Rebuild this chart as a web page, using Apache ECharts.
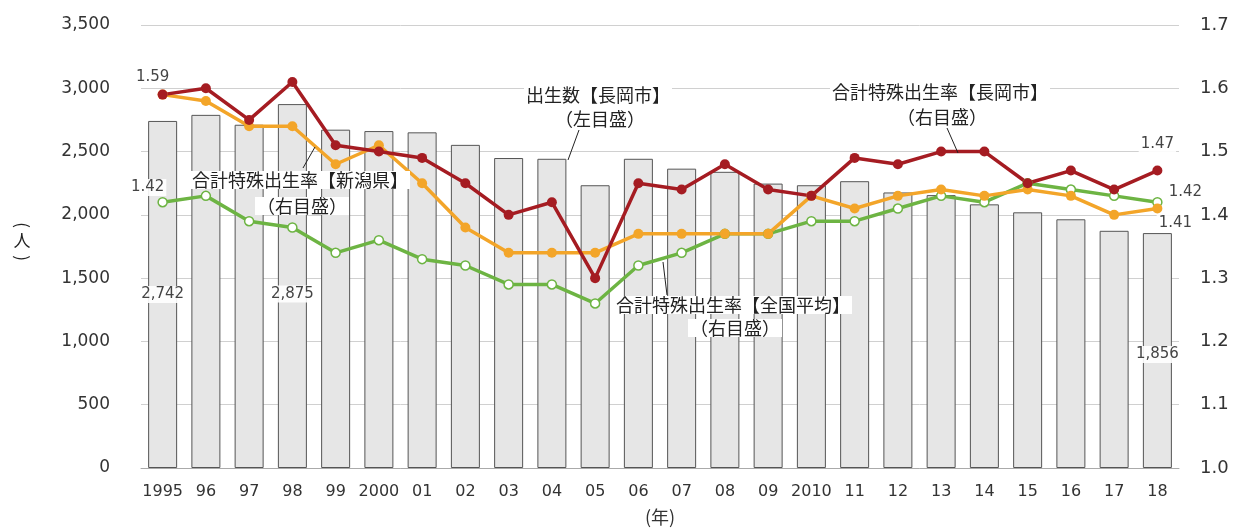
<!DOCTYPE html>
<html>
<head>
<meta charset="utf-8">
<script src="https://cdn.jsdelivr.net/npm/echarts@6/dist/echarts.min.js"></script>
<style>
  html, body { margin: 0; padding: 0; background: #fff; }
  #chart { width: 1236px; height: 531px; }
</style>
</head>
<body>
<div id="chart"></div>
<script>
// 年（横軸）
var years = ['1995', '96', '97', '98', '99', '2000', '01', '02', '03', '04', '05', '06',
    '07', '08', '09', '2010', '11', '12', '13', '14', '15', '16', '17', '18'];
// 出生数【長岡市】（左目盛）
var births = [2742, 2790, 2712, 2875, 2673, 2662, 2652, 2553, 2449, 2443, 2234, 2443,
    2365, 2340, 2247, 2234, 2266, 2177, 2156, 2083, 2020, 1965, 1874, 1856];
// 合計特殊出生率（右目盛）
var tfrNagaoka = [1.59, 1.60, 1.55, 1.61, 1.51, 1.50, 1.49, 1.45, 1.40, 1.42, 1.30, 1.45,
    1.44, 1.48, 1.44, 1.43, 1.49, 1.48, 1.50, 1.50, 1.45, 1.47, 1.44, 1.47];
var tfrNiigata = [1.59, 1.58, 1.54, 1.54, 1.48, 1.51, 1.45, 1.38, 1.34, 1.34, 1.34, 1.37,
    1.37, 1.37, 1.37, 1.43, 1.41, 1.43, 1.44, 1.43, 1.44, 1.43, 1.40, 1.41];
var tfrNational = [1.42, 1.43, 1.39, 1.38, 1.34, 1.36, 1.33, 1.32, 1.29, 1.29, 1.26, 1.32,
    1.34, 1.37, 1.37, 1.39, 1.39, 1.41, 1.43, 1.42, 1.45, 1.44, 1.43, 1.42];
// 目盛
var leftTicks = [0, 3500, 500];
var rightTicks = [1.0, 1.7, 0.1];

var RED = '#a51c22';
var ORANGE = '#f3a529';
var GREEN = '#6db443';
var NUM_FONT = 'DejaVu Sans';
var JP_FONT = '"Noto Sans CJK JP", sans-serif';

var valueLabel = {
    show: true,
    color: '#444',
    fontFamily: NUM_FONT,
    fontSize: 15,
    backgroundColor: 'rgba(255,255,255,0.9)',
    padding: [1, 2]
};

function pick(list, extra) {
    // 指定した点だけラベルを付ける
    return list.map(function(v, i) {
        if (extra[i]) {
            return { value: v, label: Object.assign({}, valueLabel, extra[i]) };
        }
        return v;
    });
}

function comma(p) {
    return p.value.toLocaleString('en-US');
}

var barData = pick(births, {
    0: { position: 'inside', offset: [0, 0], formatter: comma },
    3: { position: 'inside', offset: [0, 8], formatter: comma },
    23: { position: 'inside', offset: [0, 4], formatter: comma }
});
var redData = pick(tfrNagaoka, {
    0: { position: 'top', distance: 4, offset: [-10, 0] },
    23: { position: 'top', distance: 13, offset: [0, 0] }
});
var orangeData = pick(tfrNiigata, {
    23: { position: 'bottom', distance: 1, offset: [18, 0] }
});
var greenData = pick(tfrNational, {
    0: { position: 'top', distance: 1, offset: [-15, 0] },
    23: { position: 'right', distance: 4, offset: [0, -10] }
});

function lineSeries(name, data, color, hollow) {
    return {
        name: name,
        type: 'line',
        yAxisIndex: 1,
        data: data,
        symbol: 'circle',
        symbolSize: hollow ? 9 : 10,
        showAllSymbol: true,
        lineStyle: { color: color, width: 3.5 },
        itemStyle: {
            color: hollow ? '#fff' : color,
            borderColor: color,
            borderWidth: hollow ? 1.5 : 0
        },
        label: { show: false },
        z: 3
    };
}

function note(x, y, text, size, bg, rot) {
    return {
        type: 'text',
        x: x,
        y: y,
        rotation: rot || 0,
        z: 100,
        style: {
            text: text,
            fill: '#222',
            font: (size || 18) + 'px ' + JP_FONT,
            align: 'center',
            verticalAlign: 'middle',
            backgroundColor: bg === false ? null : '#fff',
            padding: [0, 2]
        }
    };
}

function leader(x1, y1, x2, y2) {
    return {
        type: 'line',
        z: 99,
        shape: { x1: x1, y1: y1, x2: x2, y2: y2 },
        style: { stroke: '#222', lineWidth: 1 }
    };
}

var chart = echarts.init(document.getElementById('chart'));
chart.setOption({
    animation: false,
    backgroundColor: '#fff',
    grid: { left: 141, right: 57, top: 25, bottom: 59 },
    xAxis: {
        type: 'category',
        data: years,
        name: '(年)',
        nameLocation: 'middle',
        nameGap: 40,
        nameTextStyle: { color: '#333', fontSize: 18, fontFamily: JP_FONT },
        axisLine: { lineStyle: { color: '#aaa' } },
        axisTick: { show: false },
        axisLabel: {
            color: '#333',
            fontSize: 16,
            fontFamily: NUM_FONT,
            margin: 16,
            interval: 0
        }
    },
    yAxis: [
        {
            type: 'value',
            min: leftTicks[0],
            max: leftTicks[1],
            interval: leftTicks[2],
            axisLine: { show: false },
            axisTick: { show: false },
            splitLine: { lineStyle: { color: '#d0d0d0', width: 1 } },
            axisLabel: {
                color: '#333',
                fontSize: 17,
                fontFamily: NUM_FONT,
                margin: 31,
                formatter: function(v) { return v.toLocaleString('en-US'); }
            }
        },
        {
            type: 'value',
            min: rightTicks[0],
            max: rightTicks[1],
            interval: rightTicks[2],
            axisLine: { show: false },
            axisTick: { show: false },
            splitLine: { show: false },
            axisLabel: {
                color: '#333',
                fontSize: 18,
                fontFamily: NUM_FONT,
                margin: 21,
                formatter: function(v) { return v.toFixed(1); }
            }
        }
    ],
    series: [
        {
            name: '出生数【長岡市】',
            type: 'bar',
            data: barData,
            barWidth: 29,
            itemStyle: { color: '#e6e6e6', borderColor: '#555', borderWidth: 1 },
            z: 2
        },
        lineSeries('合計特殊出生率【全国平均】', greenData, GREEN, true),
        lineSeries('合計特殊出生率【新潟県】', orangeData, ORANGE, false),
        lineSeries('合計特殊出生率【長岡市】', redData, RED, false)
    ],
    graphic: [
        leader(303, 168, 315, 147),
        leader(579, 130, 568, 160),
        leader(947, 128, 958, 153),
        leader(663, 262, 667, 295),
        note(300, 180, '合計特殊出生率【新潟県】'),
        note(302, 206, '（右目盛）'),
        note(598, 95, '出生数【長岡市】'),
        note(600, 119, '（左目盛）'),
        note(940, 92, '合計特殊出生率【長岡市】'),
        note(942, 117, '（右目盛）'),
        note(733, 305, '合計特殊出生率【全国平均】'),
        note(735, 328, '（右目盛）'),
        // 縦書きの軸名（人）: 括弧は90度回転
        note(22, 225, '(', 17, false, -Math.PI / 2),
        note(22, 241, '人', 17, false),
        note(22, 258, ')', 17, false, -Math.PI / 2)
    ]
});
</script>
</body>
</html>
